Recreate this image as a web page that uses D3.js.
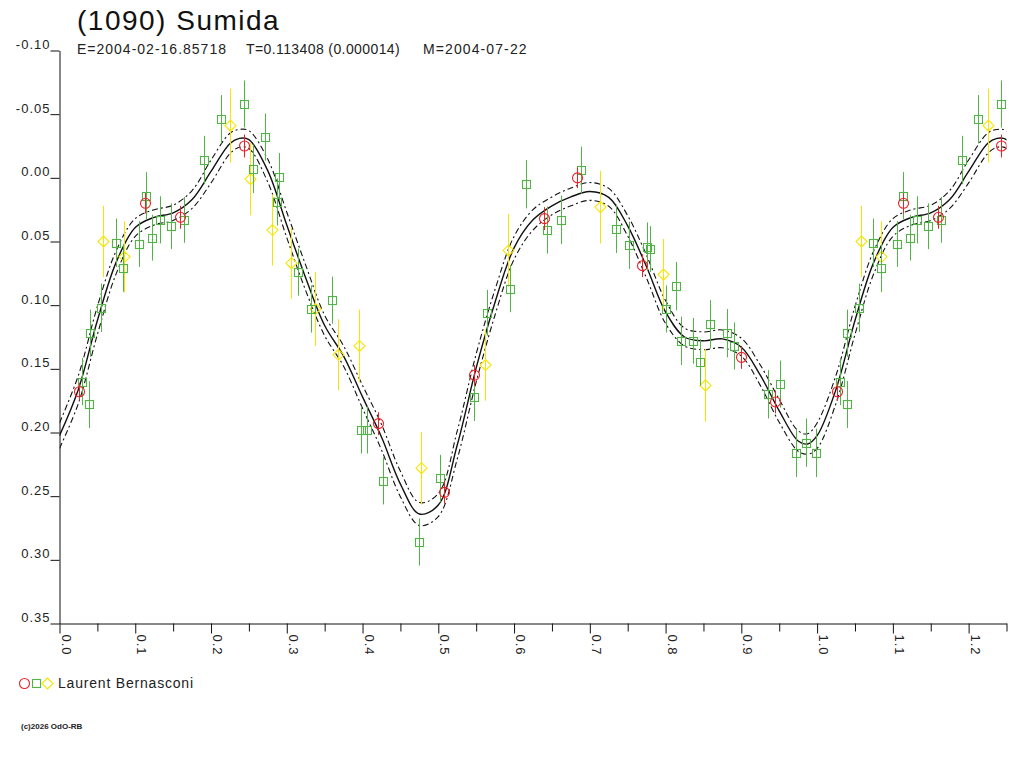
<!DOCTYPE html>
<html>
<head>
<meta charset="utf-8">
<script src="https://cdn.jsdelivr.net/npm/d3@7"></script>
<style>
  body { margin: 0; background: white; }
</style>
</head>
<body>
<div id="container"></div>
<script>
// observer: Laurent Bernasconi, three sessions (circle / square / diamond)
let redPhase = [0.026, 0.113, 0.159, 0.243, 0.420, 0.508, 0.547, 0.640, 0.683, 0.769, 0.900, 0.944];
let redMag = [0.168, 0.020, 0.031, -0.025, 0.193, 0.247, 0.155, 0.032, 0.000, 0.069, 0.141, 0.176];
let redErr = [0.007, 0.008, 0.009, 0.009, 0.009, 0.009, 0.008, 0.009, 0.008, 0.009, 0.009, 0.009];

let greenPhase = [0.030, 0.039, 0.040, 0.055, 0.074, 0.084, 0.105, 0.114, 0.122, 0.132,
  0.147, 0.164, 0.191, 0.213, 0.243, 0.256, 0.271, 0.287, 0.290, 0.315,
  0.332, 0.360, 0.398, 0.406, 0.427, 0.475, 0.502, 0.547, 0.564, 0.594,
  0.616, 0.643, 0.662, 0.688, 0.734, 0.752, 0.776, 0.779, 0.801, 0.814,
  0.821, 0.836, 0.846, 0.859, 0.881, 0.890, 0.935, 0.951, 0.972, 0.985, 0.998];
let greenMag = [0.160, 0.178, 0.122, 0.102, 0.051, 0.071, 0.052, 0.014, 0.047, 0.033,
  0.038, 0.033, -0.014, -0.046, -0.058, -0.007, -0.032, 0.019, -0.001, 0.074,
  0.103, 0.096, 0.198, 0.198, 0.238, 0.286, 0.236, 0.172, 0.106, 0.087,
  0.005, 0.041, 0.033, -0.006, 0.040, 0.053, 0.054, 0.056, 0.103, 0.085,
  0.128, 0.128, 0.145, 0.115, 0.122, 0.132, 0.170, 0.162, 0.216, 0.208, 0.216];
let greenErr = [0.0185, 0.0185, 0.0185, 0.019, 0.019, 0.0185, 0.018, 0.0185, 0.018, 0.0185,
  0.018, 0.018, 0.019, 0.019, 0.0185, 0.019, 0.0185, 0.0185, 0.0185, 0.0185,
  0.0185, 0.0185, 0.0185, 0.0185, 0.0185, 0.0185, 0.0185, 0.019, 0.018, 0.0185,
  0.019, 0.0185, 0.019, 0.0185, 0.019, 0.0185, 0.019, 0.018, 0.0185, 0.019,
  0.019, 0.018, 0.0185, 0.019, 0.019, 0.0185, 0.019, 0.0185, 0.019, 0.019, 0.019];

let yellowPhase = [0.058, 0.085, 0.225, 0.252, 0.280, 0.306, 0.337, 0.368, 0.395, 0.477, 0.561, 0.592, 0.713, 0.797, 0.852];
let yellowMag = [0.050, 0.062, -0.041, 0.001, 0.041, 0.067, 0.103, 0.139, 0.132, 0.228, 0.147, 0.057, 0.023, 0.076, 0.163];
let yellowErr = [0.028, 0.028, 0.029, 0.0285, 0.028, 0.028, 0.029, 0.028, 0.0285, 0.0285, 0.028, 0.0285, 0.0285, 0.028, 0.0285];

// fitted curve and its uncertainty
let fitPhase = [0, 0.025, 0.05, 0.075, 0.1, 0.125, 0.15, 0.175, 0.2, 0.225,
  0.2375, 0.25, 0.275, 0.3, 0.325, 0.35, 0.375, 0.4, 0.425, 0.45,
  0.475, 0.5, 0.525, 0.55, 0.575, 0.6, 0.625, 0.65, 0.675, 0.7,
  0.725, 0.75, 0.775, 0.8, 0.825, 0.85, 0.875, 0.9, 0.925, 0.95, 0.975, 0.9875];
let fitMag = [0.2025, 0.166, 0.112, 0.066, 0.039, 0.031, 0.0275, 0.017, -0.005, -0.027,
  -0.031, -0.030, -0.0055, 0.037, 0.0786, 0.116, 0.140, 0.172, 0.2036, 0.2405,
  0.264, 0.257, 0.2098, 0.1493, 0.0975, 0.055, 0.033, 0.022, 0.015, 0.0107,
  0.0153, 0.0377, 0.070, 0.1054, 0.125, 0.128, 0.1265, 0.133, 0.155, 0.183, 0.2067, 0.209];
let fitErr = [0.010, 0.011, 0.011, 0.009, 0.007, 0.006, 0.006, 0.007, 0.009, 0.008,
  0.007, 0.007, 0.009, 0.010, 0.010, 0.008, 0.008, 0.009, 0.010, 0.010,
  0.009, 0.009, 0.011, 0.011, 0.010, 0.009, 0.008, 0.007, 0.007, 0.007,
  0.007, 0.008, 0.009, 0.009, 0.007, 0.007, 0.007, 0.007, 0.008, 0.009, 0.008, 0.008];

let yTicks = [-0.10, -0.05, 0.00, 0.05, 0.10, 0.15, 0.20, 0.25, 0.30, 0.35];
let yTickLabels = ["-0.10", "-0.05", "0.00", "0.05", "0.10", "0.15", "0.20", "0.25", "0.30", "0.35"];
let xTicks = [0.0, 0.1, 0.2, 0.3, 0.4, 0.5, 0.6, 0.7, 0.8, 0.9, 1.0, 1.1, 1.2];
let xTickLabels = ["0.0", "0.1", "0.2", "0.3", "0.4", "0.5", "0.6", "0.7", "0.8", "0.9", "1.0", "1.1", "1.2"];
let xMinorTicks = [0.05, 0.15, 0.25, 0.35, 0.45, 0.55, 0.65, 0.75, 0.85, 0.95, 1.05, 1.15, 1.25];

let w = 1024;
let h = 768;
let font = "'Liberation Sans', Arial, sans-serif";
let red = "#ec2027";
let green = "#52b447";
let yellow = "#f6e500";

let viz = d3.select("#container")
  .append("svg")
  .attr("width", w)
  .attr("height", h)
  .style("background-color", "white");

let xScale = d3.scaleLinear().domain([0, 1.25]).range([59.5, 1006.5]);
let yScale = d3.scaleLinear().domain([-0.10, 0.35]).range([50.5, 623.5]);

// phases below 0.25 are shown again after 1.0
function makeSeries(phases, mags, errs) {
  let pts = [];
  for (let i = 0; i < phases.length; i++) {
    pts.push({ p: phases[i], m: mags[i], e: errs[i] });
    if (phases[i] + 1 <= 1.25) {
      pts.push({ p: phases[i] + 1, m: mags[i], e: errs[i] });
    }
  }
  return pts;
}

let fit = [];
for (let i = 0; i < fitPhase.length; i++) {
  fit.push({ p: fitPhase[i], m: fitMag[i], e: fitErr[i] });
}
for (let i = 0; i < fitPhase.length; i++) {
  if (fitPhase[i] <= 0.275) fit.push({ p: fitPhase[i] + 1, m: fitMag[i], e: fitErr[i] });
}

viz.append("clipPath").attr("id", "plotclip")
  .append("rect")
  .attr("x", xScale(0)).attr("y", yScale(-0.10))
  .attr("width", xScale(1.25) - xScale(0))
  .attr("height", yScale(0.35) - yScale(-0.10));

let plot = viz.append("g").attr("clip-path", "url(#plotclip)");

// curve
let lineMid = d3.line().x(d => xScale(d.p)).y(d => yScale(d.m)).curve(d3.curveCatmullRom);
let lineHi = d3.line().x(d => xScale(d.p)).y(d => yScale(d.m - d.e)).curve(d3.curveCatmullRom);
let lineLo = d3.line().x(d => xScale(d.p)).y(d => yScale(d.m + d.e)).curve(d3.curveCatmullRom);

plot.append("path").datum(fit).attr("d", lineHi)
  .attr("fill", "none").attr("stroke", "#111").attr("stroke-width", 1.1)
  .attr("stroke-dasharray", "6,3,2,3");
plot.append("path").datum(fit).attr("d", lineLo)
  .attr("fill", "none").attr("stroke", "#111").attr("stroke-width", 1.1)
  .attr("stroke-dasharray", "6,3,2,3");
plot.append("path").datum(fit).attr("d", lineMid)
  .attr("fill", "none").attr("stroke", "#111").attr("stroke-width", 1.4);

// points with error bars
function drawSeries(pts, color, shape) {
  let g = plot.append("g");
  g.selectAll(".bar").data(pts).enter()
    .append("line")
    .attr("x1", d => Math.round(xScale(d.p)) + 0.5)
    .attr("x2", d => Math.round(xScale(d.p)) + 0.5)
    .attr("y1", d => yScale(d.m - d.e))
    .attr("y2", d => yScale(d.m + d.e))
    .attr("stroke", color)
    .attr("stroke-width", 1);

  let marks = g.selectAll(".mark").data(pts).enter();
  if (shape == "circle") {
    marks.append("circle")
      .attr("cx", d => Math.round(xScale(d.p)) + 0.5)
      .attr("cy", d => yScale(d.m))
      .attr("r", 5)
      .attr("fill", "none").attr("stroke", color).attr("stroke-width", 1.1);
  } else if (shape == "square") {
    marks.append("rect")
      .attr("x", d => Math.round(xScale(d.p)) - 3.5)
      .attr("y", d => Math.round(yScale(d.m)) - 3.5)
      .attr("width", 8).attr("height", 8)
      .attr("fill", "none").attr("stroke", color).attr("stroke-width", 1.1);
  } else {
    marks.append("path")
      .attr("d", function(d) {
        let x = Math.round(xScale(d.p)) + 0.5;
        let y = yScale(d.m);
        return "M" + x + "," + (y - 5.5) + "L" + (x + 5.5) + "," + y + "L" + x + "," + (y + 5.5) + "L" + (x - 5.5) + "," + y + "Z";
      })
      .attr("fill", "none").attr("stroke", color).attr("stroke-width", 1.1);
  }
}

drawSeries(makeSeries(yellowPhase, yellowMag, yellowErr), yellow, "diamond");
drawSeries(makeSeries(greenPhase, greenMag, greenErr), green, "square");
drawSeries(makeSeries(redPhase, redMag, redErr), red, "circle");

// axes
let yAxis = viz.append("g")
  .attr("transform", "translate(" + xScale(0) + ",0)")
  .call(d3.axisLeft(yScale)
    .tickValues(yTicks)
    .tickSize(9)
    .tickSizeOuter(0)
    .tickPadding(0)
    .tickFormat((d, i) => yTickLabels[i]));

yAxis.selectAll("text")
  .attr("dy", "-2px")
  .style("font-family", font)
  .style("font-size", "13px")
  .style("letter-spacing", "1px")
  .style("fill", "#222");

let xAxis = viz.append("g")
  .attr("transform", "translate(0," + yScale(0.35) + ")")
  .call(d3.axisBottom(xScale)
    .tickValues(xTicks)
    .tickSize(10)
    .tickSizeOuter(0)
    .tickFormat((d, i) => xTickLabels[i]));

xAxis.selectAll("text")
  .attr("transform", "rotate(90)")
  .attr("x", 11)
  .attr("y", -1.5)
  .attr("dy", 0)
  .attr("text-anchor", "start")
  .style("font-family", font)
  .style("font-size", "13px")
  .style("letter-spacing", "1px")
  .style("fill", "#222");

let xMinor = viz.append("g")
  .attr("transform", "translate(0," + yScale(0.35) + ")")
  .call(d3.axisBottom(xScale)
    .tickValues(xMinorTicks)
    .tickSize(8)
    .tickSizeOuter(0)
    .tickFormat(""));
xMinor.select(".domain").remove();

viz.selectAll(".domain, .tick line").attr("stroke", "#111");

// title block
viz.append("text")
  .text("(1090) Sumida")
  .attr("x", 77)
  .attr("y", 30)
  .style("font-family", font)
  .style("font-size", "28px")
  .style("letter-spacing", "1.5px")
  .style("fill", "#111");

let subTexts = ["E=2004-02-16.85718", "T=0.113408 (0.000014)", "M=2004-07-22"];
let subX = [77, 246, 423];
let subSpacing = [1, 0.4, 1.1];
viz.selectAll(".sub").data(subTexts).enter()
  .append("text")
  .text(d => d)
  .attr("x", (d, i) => subX[i])
  .attr("y", 54)
  .style("font-family", font)
  .style("font-size", "14px")
  .style("letter-spacing", (d, i) => subSpacing[i] + "px")
  .style("fill", "#222");

// legend
viz.append("circle")
  .attr("cx", 24.5).attr("cy", 683.5).attr("r", 5)
  .attr("fill", "none").attr("stroke", red).attr("stroke-width", 1.1);
viz.append("rect")
  .attr("x", 32.5).attr("y", 679.5).attr("width", 8).attr("height", 8)
  .attr("fill", "none").attr("stroke", green).attr("stroke-width", 1.1);
viz.append("path")
  .attr("d", "M47.5,678 L53,683.5 L47.5,689 L42,683.5 Z")
  .attr("fill", "none").attr("stroke", yellow).attr("stroke-width", 1.1);

viz.append("text")
  .text("Laurent Bernasconi")
  .attr("x", 58)
  .attr("y", 688)
  .style("font-family", font)
  .style("font-size", "14px")
  .style("letter-spacing", "0.8px")
  .style("fill", "#222");

viz.append("text")
  .text("(c)2026 OdO-RB")
  .attr("x", 21)
  .attr("y", 729)
  .style("font-family", font)
  .style("font-size", "8px")
  .style("font-weight", "bold")
  .style("fill", "#222");
</script>
</body>
</html>
